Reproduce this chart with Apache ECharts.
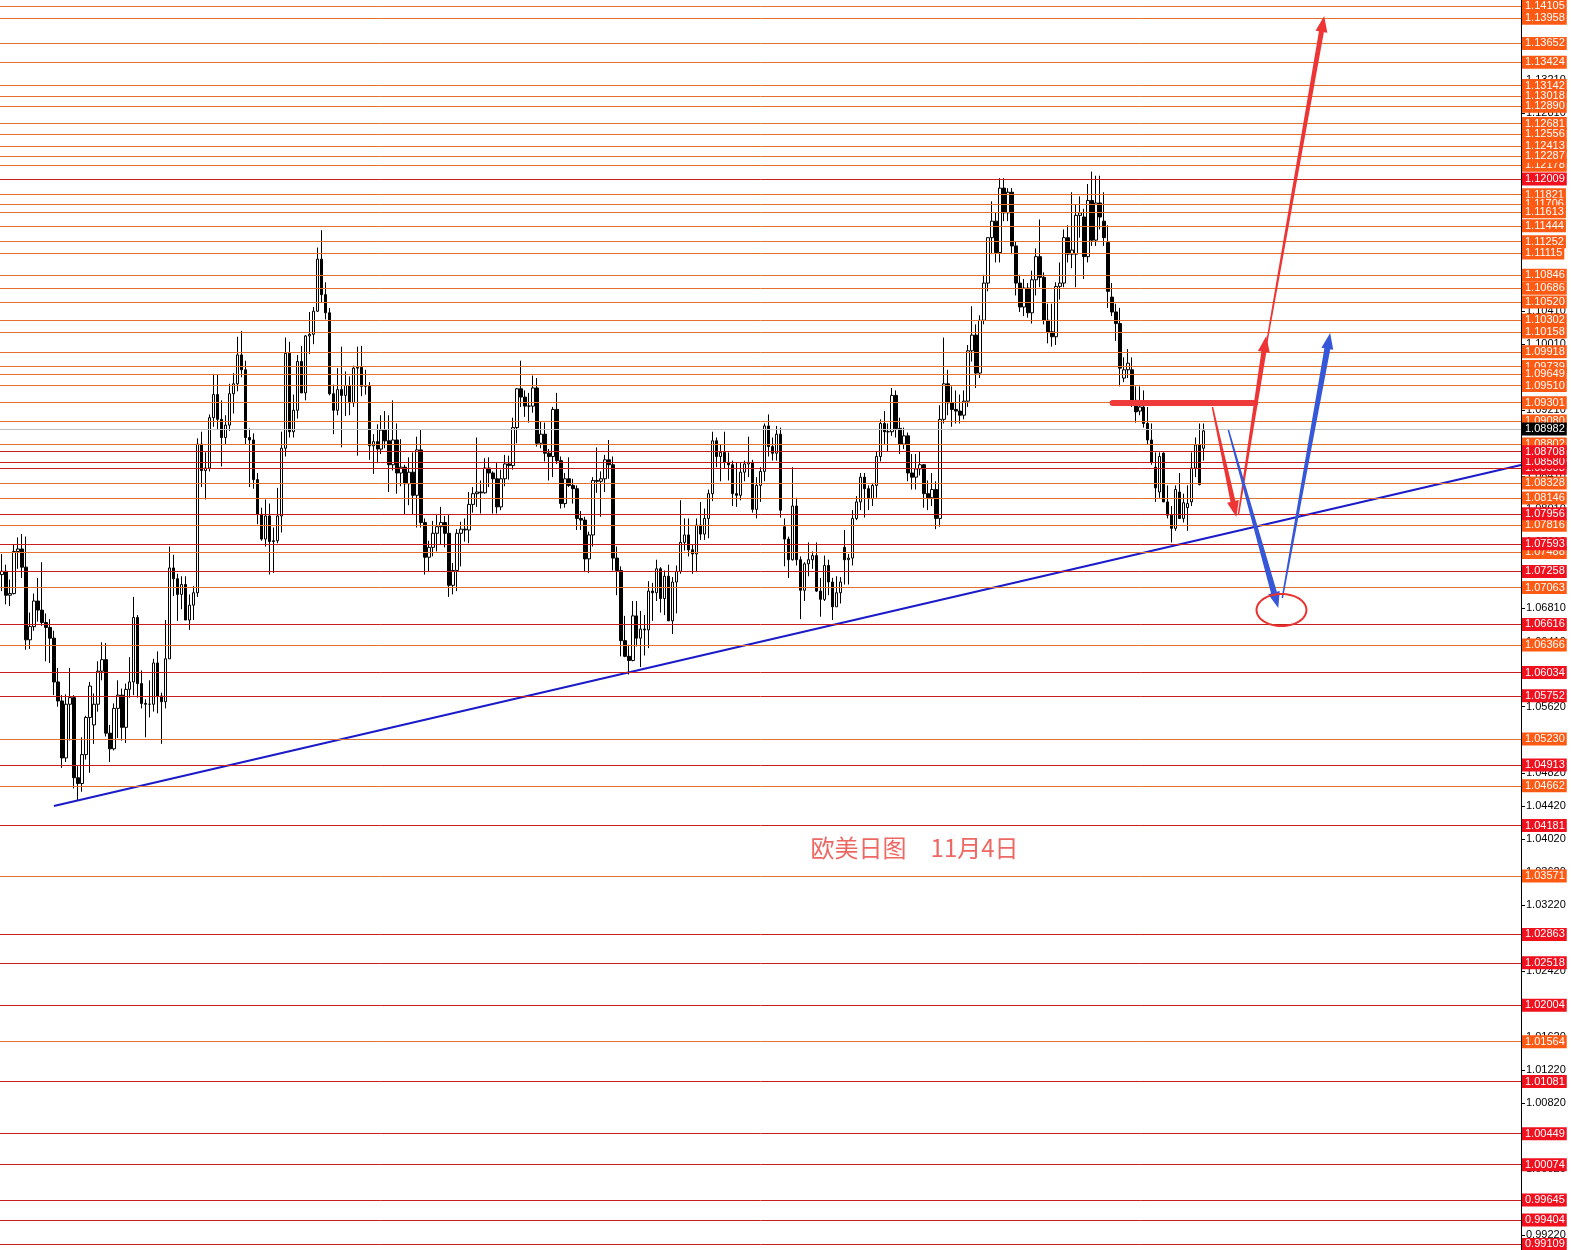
<!DOCTYPE html>
<html><head><meta charset="utf-8">
<script src="https://cdn.jsdelivr.net/npm/echarts@6/dist/echarts.min.js"></script>
<style>html,body{margin:0;padding:0;background:#fff;overflow:hidden}#c{width:1571px;height:1250px}</style>
</head><body><div id="c"></div>
<script>
// ---- candles: EURUSD daily, 2023-09-06 .. 2024-11-04 ----
const opens = [
1.0722,1.0726,1.0697,1.0699,1.0750,1.0753,1.0731,1.0643,1.0659,1.0690,1.0679,1.0664,1.0658,1.0645,1.0592,1.0569,1.0500,1.0565,
1.0573,1.0476,1.0469,1.0504,1.0549,1.0540,1.0565,1.0605,1.0619,1.0530,1.0511,1.0560,1.0576,1.0537,1.0583,1.0592,1.0670,1.0590,1.0566,1.0565,1.0565,1.0615,
1.0575,1.0568,1.0620,1.0730,1.0717,1.0698,1.0710,1.0667,1.0685,1.0700,1.0880,1.0848,1.0851,1.0912,1.0940,1.0910,1.0888,1.0903,1.0941,1.0953,1.0988,1.0970,
1.0888,1.0885,1.0837,1.0795,1.0765,1.0793,1.0762,1.0763,1.0793,1.0875,1.0990,1.0895,1.0921,1.0980,1.0942,1.1011,1.1013,1.1041,1.1104,1.1061,
1.1039,1.0941,1.0921,1.0946,1.0939,1.0951,1.0930,1.0972,1.0973,1.0950,1.0950,1.0878,1.0883,1.0874,1.0897,1.0884,1.0855,1.0885,1.0845,1.0852,1.0832,1.0846,
1.0818,1.0873,1.0785,1.0743,1.0755,1.0772,1.0780,1.0785,1.0772,1.0709,1.0727,1.0772,1.0777,1.0776,1.0807,1.0820,1.0822,1.0821,1.0851,1.0845,1.0838,
1.0804,1.0838,1.0856,1.0854,1.0900,1.0947,1.0937,1.0926,1.0926,1.0948,1.0881,1.0892,1.0869,1.0865,1.0922,1.0860,1.0808,1.0838,1.0830,1.0826,1.0790,
1.0788,1.0741,1.0770,1.0836,1.0835,1.0838,1.0861,1.0855,1.0742,1.0727,1.0642,1.0623,1.0618,1.0672,1.0645,1.0656,1.0655,1.0702,1.0700,1.0729,1.0693,1.0720,
1.0666,1.0713,1.0726,1.0761,1.0770,1.0752,1.0747,1.0782,1.0771,1.0790,1.0820,1.0884,1.0865,1.0870,1.0858,1.0855,1.0820,1.0818,1.0846,1.0856,1.0858,1.0801,1.0830,
1.0847,1.0902,1.0877,1.0869,1.0892,1.0780,1.0765,1.0740,1.0805,1.0740,1.0703,1.0735,1.0740,1.0745,1.0702,1.0692,1.0733,1.0713,1.0683,1.0700,
1.0755,1.0740,1.0742,1.0790,1.0810,1.0840,1.0826,1.0814,1.0830,1.0865,1.0905,1.0895,1.0895,1.0939,1.0899,1.0880,1.0890,1.0845,1.0840,1.0850,1.0855,1.0820,1.0815,
1.0825,1.0790,1.0910,1.0953,1.0930,1.0922,1.0920,1.0915,1.0932,1.0993,1.1012,1.0966,1.1030,1.1075,1.1130,1.1150,1.1112,1.1190,1.1160,1.1185,1.1120,1.1075,
1.1046,1.1069,1.1039,1.1079,1.1107,1.1082,1.1030,1.1016,1.1010,1.1071,1.1075,1.1130,1.1110,1.1110,1.1157,1.1155,1.1107,1.1175,1.1127,1.1172,1.1150,
1.1124,1.1058,1.1040,1.1026,1.0960,1.0970,1.0970,1.0933,1.0920,1.0925,1.0905,1.0885,1.0852,1.0822,1.0869,1.0810,1.0794,1.0778,1.0822,1.0790,1.0803,1.0810,1.0851,
1.0879,1.0875
];
const highs = [
1.0747,1.0734,1.0716,1.0759,1.0767,1.0771,1.0768,1.0676,1.0699,1.0718,1.0737,1.0675,1.0668,1.0654,1.0609,1.0576,1.0577,1.0609,
1.0576,1.0490,1.0525,1.0551,1.0592,1.0578,1.0617,1.0640,1.0639,1.0540,1.0566,1.0594,1.0584,1.0590,1.0622,1.0695,1.0673,1.0606,1.0571,1.0594,1.0620,1.0629,
1.0579,1.0667,1.0756,1.0746,1.0723,1.0720,1.0720,1.0698,1.0708,1.0887,1.0895,1.0870,1.0916,1.0965,1.0964,1.0933,1.0915,1.0953,1.0966,1.1010,1.1017,1.0981,
1.0899,1.0893,1.0845,1.0803,1.0813,1.0808,1.0779,1.0827,1.0895,1.1009,1.1004,1.0940,1.0988,1.0999,1.1012,1.1040,1.1046,1.1118,1.1139,1.1076,
1.1045,1.0952,1.0972,1.0998,1.0968,1.0962,1.0975,1.0998,1.0999,1.0970,1.0955,1.0892,1.0904,1.0915,1.0920,1.0915,1.0933,1.0905,1.0886,1.0855,1.0864,1.0870,
1.0889,1.0897,1.0790,1.0763,1.0787,1.0794,1.0804,1.0793,1.0794,1.0736,1.0777,1.0786,1.0790,1.0822,1.0828,1.0888,1.0836,1.0863,1.0864,1.0847,1.0857,
1.0849,1.0867,1.0866,1.0912,1.0948,1.0981,1.0945,1.0942,1.0963,1.0960,1.0907,1.0906,1.0874,1.0925,1.0942,1.0865,1.0845,1.0864,1.0838,1.0830,1.0799,
1.0792,1.0774,1.0840,1.0876,1.0847,1.0867,1.0885,1.0865,1.0756,1.0732,1.0672,1.0637,1.0690,1.0690,1.0678,1.0673,1.0714,1.0712,1.0740,1.0731,1.0727,1.0734,
1.0719,1.0733,1.0812,1.0790,1.0790,1.0759,1.0790,1.0810,1.0802,1.0825,1.0895,1.0888,1.0880,1.0895,1.0870,1.0860,1.0858,1.0857,1.0860,1.0889,1.0861,1.0840,1.0852,
1.0905,1.0916,1.0888,1.0902,1.0900,1.0790,1.0768,1.0852,1.0815,1.0744,1.0737,1.0761,1.0750,1.0761,1.0718,1.0745,1.0740,1.0718,1.0720,1.0719,
1.0776,1.0747,1.0800,1.0817,1.0845,1.0845,1.0830,1.0833,1.0871,1.0910,1.0920,1.0905,1.0948,1.0945,1.0912,1.0900,1.0894,1.0868,1.0868,1.0871,1.0856,1.0836,1.0845,
1.0835,1.0927,1.1009,1.0970,1.0950,1.0945,1.0940,1.0945,1.1000,1.1047,1.1025,1.1036,1.1085,1.1130,1.1174,1.1160,1.1202,1.1202,1.1190,1.1190,1.1126,1.1085,
1.1080,1.1075,1.1090,1.1117,1.1152,1.1088,1.1050,1.1050,1.1076,1.1100,1.1140,1.1145,1.1185,1.1170,1.1180,1.1165,1.1195,1.1210,1.1205,1.1205,1.1185,
1.1145,1.1075,1.1050,1.1045,1.0985,1.0995,1.0985,1.0950,1.0950,1.0945,1.0925,1.0905,1.0870,1.0870,1.0870,1.0830,1.0805,1.0830,1.0845,1.0820,1.0830,1.0870,1.0888,
1.0905,1.0905
];
const lows = [
1.0702,1.0686,1.0684,1.0698,1.0729,1.0718,1.0631,1.0632,1.0654,1.0665,1.0660,1.0617,1.0615,1.0576,1.0562,1.0488,1.0495,1.0521,
1.0463,1.0448,1.0459,1.0498,1.0482,1.0517,1.0556,1.0594,1.0526,1.0495,1.0509,1.0524,1.0521,1.0518,1.0573,1.0576,1.0573,1.0560,1.0525,1.0549,1.0556,1.0554,
1.0517,1.0560,1.0620,1.0696,1.0666,1.0680,1.0667,1.0655,1.0667,1.0695,1.0828,1.0813,1.0847,1.0901,1.0898,1.0853,1.0880,1.0896,1.0917,1.0944,1.0961,1.0879,
1.0828,1.0826,1.0783,1.0763,1.0756,1.0722,1.0724,1.0760,1.0773,1.0865,1.0888,1.0888,1.0911,1.0944,1.0933,1.0989,1.1001,1.1040,1.1052,1.1031,
1.0939,1.0892,1.0915,1.0876,1.0914,1.0915,1.0925,1.0866,1.0938,1.0940,1.0861,1.0844,1.0857,1.0868,1.0875,1.0822,1.0848,1.0820,1.0829,1.0795,1.0806,1.0795,
1.0779,1.0779,1.0722,1.0725,1.0744,1.0750,1.0758,1.0755,1.0695,1.0698,1.0702,1.0732,1.0762,1.0760,1.0797,1.0804,1.0796,1.0820,1.0828,1.0796,1.0796,
1.0800,1.0829,1.0837,1.0849,1.0881,1.0925,1.0913,1.0906,1.0918,1.0877,1.0875,1.0859,1.0836,1.0840,1.0856,1.0802,1.0803,1.0828,1.0808,1.0776,1.0776,
1.0725,1.0724,1.0756,1.0821,1.0792,1.0822,1.0838,1.0727,1.0697,1.0623,1.0622,1.0601,1.0617,1.0635,1.0610,1.0624,1.0633,1.0666,1.0690,1.0676,1.0673,1.0666,
1.0650,1.0675,1.0723,1.0751,1.0744,1.0723,1.0725,1.0764,1.0764,1.0766,1.0811,1.0852,1.0835,1.0850,1.0836,1.0805,1.0804,1.0812,1.0835,1.0840,1.0797,1.0790,1.0810,
1.0835,1.0865,1.0860,1.0860,1.0791,1.0732,1.0718,1.0739,1.0733,1.0668,1.0690,1.0720,1.0729,1.0701,1.0671,1.0690,1.0697,1.0667,1.0683,1.0687,
1.0710,1.0710,1.0733,1.0788,1.0800,1.0791,1.0800,1.0805,1.0815,1.0859,1.0880,1.0871,1.0890,1.0888,1.0868,1.0874,1.0835,1.0825,1.0825,1.0842,1.0803,1.0800,1.0805,
1.0777,1.0780,1.0905,1.0915,1.0901,1.0905,1.0905,1.0910,1.0925,1.0980,1.0948,1.0960,1.1025,1.1065,1.1110,1.1100,1.1100,1.1150,1.1150,1.1110,1.1060,1.1040,
1.1035,1.1033,1.1026,1.1060,1.1070,1.1025,1.1002,1.0998,1.1000,1.1055,1.1070,1.1100,1.1093,1.1070,1.1130,1.1080,1.1100,1.1120,1.1120,1.1140,1.1120,
1.1045,1.1035,1.1005,1.0950,1.0955,1.0960,1.0925,1.0906,1.0915,1.0900,1.0880,1.0855,1.0810,1.0815,1.0810,1.0790,1.0761,1.0775,1.0790,1.0785,1.0775,1.0805,1.0840,
1.0830,1.0860
];
const closes = [
1.0726,1.0697,1.0699,1.0750,1.0753,1.0731,1.0643,1.0659,1.0690,1.0679,1.0664,1.0658,1.0645,1.0592,1.0569,1.0500,1.0565,1.0573,
1.0476,1.0469,1.0504,1.0549,1.0587,1.0565,1.0605,1.0619,1.0530,1.0511,1.0560,1.0576,1.0537,1.0583,1.0592,1.0670,1.0590,1.0566,1.0565,1.0565,1.0615,1.0575,
1.0568,1.0620,1.0730,1.0717,1.0698,1.0710,1.0667,1.0685,1.0700,1.0880,1.0848,1.0851,1.0912,1.0940,1.0910,1.0888,1.0903,1.0941,1.0953,1.0988,1.0970,1.0888,
1.0885,1.0837,1.0795,1.0765,1.0793,1.0762,1.0763,1.0793,1.0875,1.0990,1.0895,1.0921,1.0980,1.0942,1.1011,1.1013,1.1041,1.1104,1.1061,1.1039,
1.0941,1.0921,1.0946,1.0939,1.0951,1.0930,1.0972,1.0973,1.0950,1.0950,1.0878,1.0883,1.0874,1.0897,1.0884,1.0855,1.0885,1.0845,1.0852,1.0832,1.0846,1.0818,
1.0873,1.0785,1.0743,1.0755,1.0772,1.0780,1.0785,1.0772,1.0709,1.0727,1.0772,1.0777,1.0776,1.0807,1.0820,1.0822,1.0821,1.0851,1.0845,1.0838,1.0804,
1.0838,1.0856,1.0854,1.0900,1.0947,1.0937,1.0926,1.0926,1.0948,1.0881,1.0892,1.0869,1.0865,1.0922,1.0860,1.0808,1.0838,1.0830,1.0826,1.0790,1.0788,
1.0741,1.0770,1.0836,1.0835,1.0838,1.0861,1.0855,1.0742,1.0727,1.0642,1.0623,1.0618,1.0672,1.0645,1.0656,1.0655,1.0702,1.0700,1.0729,1.0693,1.0720,1.0666,
1.0713,1.0726,1.0761,1.0770,1.0752,1.0747,1.0782,1.0771,1.0790,1.0820,1.0884,1.0865,1.0870,1.0858,1.0855,1.0820,1.0818,1.0846,1.0856,1.0858,1.0801,1.0830,1.0847,
1.0902,1.0877,1.0869,1.0892,1.0800,1.0765,1.0740,1.0805,1.0740,1.0703,1.0735,1.0740,1.0745,1.0702,1.0692,1.0733,1.0713,1.0683,1.0700,1.0713,
1.0740,1.0742,1.0790,1.0810,1.0840,1.0826,1.0814,1.0830,1.0865,1.0905,1.0895,1.0895,1.0939,1.0899,1.0880,1.0890,1.0845,1.0840,1.0850,1.0855,1.0820,1.0815,1.0825,
1.0790,1.0910,1.0953,1.0930,1.0922,1.0920,1.0915,1.0932,1.0993,1.1012,1.0966,1.1030,1.1075,1.1130,1.1150,1.1112,1.1190,1.1160,1.1185,1.1120,1.1075,1.1046,
1.1069,1.1039,1.1079,1.1107,1.1082,1.1030,1.1015,1.1010,1.1071,1.1075,1.1130,1.1110,1.1115,1.1157,1.1160,1.1107,1.1175,1.1127,1.1172,1.1155,1.1130,
1.1065,1.1040,1.1026,1.0972,1.0970,1.0978,1.0933,1.0919,1.0925,1.0905,1.0885,1.0858,1.0827,1.0865,1.0810,1.0794,1.0778,1.0825,1.0790,1.0809,1.0808,1.0851,1.0879,
1.0831,1.0896
];

// ---- horizontal levels ----
const orangeLevels = [1.14199,1.14105,1.13958,1.13652,1.13424,1.13142,1.13018,1.12890,1.12681,1.12556,1.12413,1.12178,1.12287,
  1.11821,1.11706,1.11613,1.11444,1.11252,1.11115,1.10846,1.10686,1.10520,1.10158,1.10302,1.09918,1.09739,1.09649,1.09510,1.09301,
  1.09080,1.08802,1.08328,1.08146,1.07816,1.07488,1.07063,1.06366,1.05230,1.04662,1.03571,1.01564];
const redLevels = [1.12009,1.08508,1.08580,1.08708,1.07956,1.07593,1.07258,1.06616,1.06034,1.05752,1.04913,1.04181,
  1.02863,1.02518,1.02004,1.01081,1.00449,1.00074,0.99645,0.99404,0.99109];
const currentPrice = 1.08982;
const axisTicks = [0.99220,0.99620,1.00020,1.00420,1.00820,1.01220,1.01620,1.02020,1.02420,1.02820,1.03220,1.03620,1.04020,
  1.04420,1.04820,1.05220,1.05620,1.06020,1.06410,1.06810,1.07210,1.07610,1.08010,1.08410,1.08810,1.09210,1.09610,1.10010,
  1.10410,1.10810,1.11210,1.11610,1.12010,1.12410,1.12810,1.13210,1.13610,1.14010];

// ---- annotations (bar index, price) ----
const trendLine = [[13.0, 1.04417], [380.5, 1.08547]];
const markerStroke = [[278.2, 1.09297], [313.9, 1.09297]];
const redArrows = [[303.2, 1.09249, 309.2, 1.07917], [309.7, 1.07941, 316.7, 1.10109], [316.7, 1.10000, 331.2, 1.13984]];
const blueArrows = [[307.2, 1.08971, 319.7, 1.06815], [320.7, 1.06936, 332.7, 1.10145]];
const targetEllipse = [[320.5, 1.06791, 6.25, 0.00194]];
const titleText = '欧美日图　11月4日';
const titlePos = [[228.6, 1.03909]];

// ---- build ----
const N = 381;
const YMIN = 0.99041, YMAX = 1.14178;
const cats = Array.from({length: N}, (_, i) => String(i));
const candles = closes.map((c, i) => [opens[i], c, lows[i], highs[i]]);

const ORANGE_LINE = '#E2702E', ORANGE_LABEL = '#FF5A14';
const RED_LINE = '#C81E1E', RED_LABEL = '#F0101E';
const markData = [];
orangeLevels.forEach(v => markData.push({yAxis: v, lineStyle: {color: ORANGE_LINE}, label: {backgroundColor: ORANGE_LABEL}}));
redLevels.forEach(v => markData.push({yAxis: v, lineStyle: {color: RED_LINE}, label: {backgroundColor: RED_LABEL}}));
markData.push({yAxis: currentPrice, lineStyle: {color: '#C0C0C0'}, label: {backgroundColor: '#000000'}});

function arrowRender(color, w0, w1, headW, headL) {
  return function (params, api) {
    const p0 = api.coord([api.value(0), api.value(1)]);
    const p1 = api.coord([api.value(2), api.value(3)]);
    const dx = p1[0] - p0[0], dy = p1[1] - p0[1];
    const len = Math.hypot(dx, dy);
    const ux = dx / len, uy = dy / len, nx = -uy, ny = ux;
    const bx = p1[0] - ux * headL, by = p1[1] - uy * headL;
    const pts = [
      [p0[0] + nx * w0 / 2, p0[1] + ny * w0 / 2],
      [bx + nx * w1 / 2, by + ny * w1 / 2],
      [bx + nx * headW / 2, by + ny * headW / 2],
      [p1[0], p1[1]],
      [bx - nx * headW / 2, by - ny * headW / 2],
      [bx - nx * w1 / 2, by - ny * w1 / 2],
      [p0[0] - nx * w0 / 2, p0[1] - ny * w0 / 2]
    ];
    return {type: 'polygon', shape: {points: pts}, style: {fill: color}};
  };
}
function ellipseRender(params, api) {
  const c = api.coord([api.value(0), api.value(1)]);
  const ex = api.coord([api.value(0) + api.value(2), api.value(1)]);
  const ey = api.coord([api.value(0), api.value(1) + api.value(3)]);
  const rx = Math.abs(ex[0] - c[0]), ry = Math.abs(c[1] - ey[1]);
  const pts = [];
  for (let k = 0; k < 64; k++) {
    const t = k / 64 * Math.PI * 2;
    pts.push([c[0] + rx * Math.cos(t), c[1] + ry * Math.sin(t)]);
  }
  return {type: 'polygon', shape: {points: pts}, style: {fill: 'none', stroke: '#E8332F', lineWidth: 2}};
}

const chart = echarts.init(document.getElementById('c'), null, {renderer: 'canvas'});
chart.setOption({
  animation: false,
  backgroundColor: '#ffffff',
  grid: {left: -2, right: 50, top: 0, bottom: 0, containLabel: false},
  xAxis: [
    {type: 'category', data: cats, show: false, boundaryGap: true},
    {type: 'value', min: -0.5, max: N - 0.5, show: false}
  ],
  yAxis: [{
    type: 'value', min: YMIN, max: YMAX, position: 'right', scale: true,
    splitLine: {show: false},
    axisLine: {show: true, onZero: false, lineStyle: {color: '#000', width: 1}},
    axisTick: {show: true, customValues: axisTicks, length: 4, lineStyle: {color: '#000'}},
    axisLabel: {show: true, customValues: axisTicks, formatter: v => Number(v).toFixed(5),
      color: '#000', fontSize: 11, fontFamily: 'Liberation Sans', margin: 5}
  }],
  series: [
    {
      type: 'line', data: [], z: 1, clip: false, silent: true,
      markLine: {
        symbol: ['none', 'none'], silent: true, animation: false, precision: 5,
        lineStyle: {type: 'solid', width: 1},
        label: {show: true, position: 'end', distance: 1, formatter: p => Number(p.value).toFixed(5),
          color: '#fff', fontSize: 11, fontFamily: 'Liberation Sans', padding: [1, 2, 0, 3], lineHeight: 12},
        emphasis: {disabled: true},
        data: markData
      }
    },
    {
      type: 'candlestick', data: candles, z: 3, barWidth: 3, silent: true,
      itemStyle: {color: '#ffffff', color0: '#000000', borderColor: '#000000', borderColor0: '#000000', borderWidth: 1}
    },
    {
      type: 'line', xAxisIndex: 1, data: trendLine, z: 4, symbol: 'none', silent: true,
      lineStyle: {color: '#1A1AC8', width: 2}
    },
    {
      type: 'line', xAxisIndex: 1, data: markerStroke, z: 5, symbol: 'none', silent: true,
      lineStyle: {color: '#EE3A3A', width: 6, cap: 'round'}
    },
    {
      type: 'custom', xAxisIndex: 1, data: redArrows, z: 6, silent: true,
      encode: {x: [0, 2], y: [1, 3]},
      renderItem: arrowRender('#EE3535', 1.5, 5, 12, 16)
    },
    {
      type: 'custom', xAxisIndex: 1, data: blueArrows, z: 6, silent: true,
      encode: {x: [0, 2], y: [1, 3]},
      renderItem: arrowRender('#3557D8', 1.5, 6, 12, 16)
    },
    {
      type: 'custom', xAxisIndex: 1, data: targetEllipse, z: 6, silent: true,
      encode: {x: 0, y: 1},
      renderItem: ellipseRender
    },
    {
      type: 'scatter', xAxisIndex: 1, data: titlePos, z: 7, symbolSize: 0, silent: true,
      label: {show: true, position: 'inside', formatter: () => titleText,
        color: '#E8413C', fontSize: 24, fontFamily: 'Noto Sans CJK SC'}
    }
  ]
});
</script>
</body></html>
